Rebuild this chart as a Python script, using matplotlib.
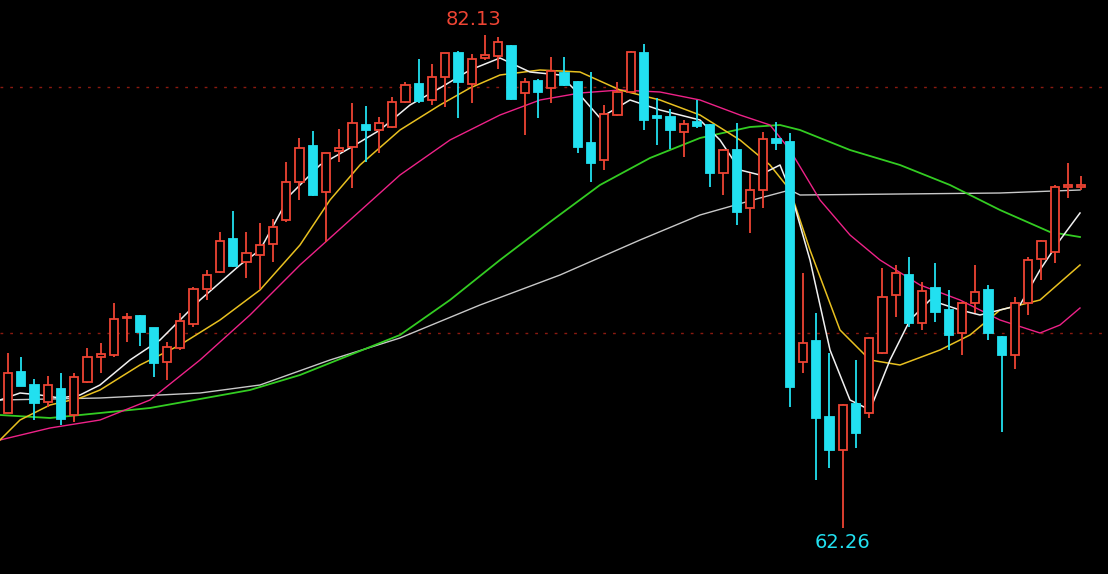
import matplotlib
matplotlib.use("Agg")
import matplotlib.pyplot as plt
from matplotlib.patches import Rectangle
import numpy as np

# Calibration: labelled 82.13 high at y=35px, 62.26 low at y=528px;
# candles at x = 8 + 13.25*i px
def to_price(v):
    v = np.asarray(v, float)
    return 82.13 - (v - 35) * (82.13 - 62.26) / (528 - 35)

def to_index(v):
    return (np.asarray(v, float) - 8) / 13.25

# OHLC (image scale), converted to price
opens  = to_price([413,372,385,402,389,415,382,357,355,318,316,328,362,348,324,289,272,239,262,255,244,220,182,146,192,151,147,125,130,127,102,84,100,77,53,84,58,56,46,93,81,88,73,82,143,160,115,92,53,116,117,132,122,125,173,150,208,190,139,142,362,341,417,450,404,413,353,295,275,323,288,310,333,303,290,337,355,303,259,252,187,187])
closes = to_price([373,386,403,385,419,377,357,354,319,317,332,363,347,321,289,275,241,266,253,245,227,182,148,195,153,148,123,130,123,102,85,101,77,53,82,59,55,42,99,82,92,71,85,147,163,114,92,52,120,118,130,124,126,173,150,212,190,139,143,387,343,418,450,405,433,338,297,273,323,291,312,335,303,292,333,355,303,260,241,187,185,185])
highs  = to_price([353,357,379,376,373,373,348,343,303,313,315,328,342,313,287,270,232,211,232,223,219,162,138,131,153,129,103,106,117,97,82,59,64,53,51,54,35,37,45,78,79,57,57,81,72,105,82,51,44,98,109,120,100,124,149,123,173,132,122,133,273,313,353,404,360,337,268,265,257,282,263,290,302,265,285,336,297,257,240,185,163,176])
lows   = to_price([413,386,420,407,425,422,383,373,357,342,346,377,380,350,327,300,273,267,278,289,262,222,200,196,242,162,188,162,153,128,103,103,105,107,118,103,60,69,100,135,118,103,86,153,182,170,116,93,130,145,149,157,128,187,195,225,233,208,150,407,373,480,468,528,448,418,354,317,327,330,322,350,355,313,340,432,369,315,280,263,198,190])

# Moving-average lines
ma5_x  = to_index([0,20,40,60,80,100,130,160,200,240,260,290,320,350,380,410,440,470,500,530,560,580,600,630,660,700,720,740,760,780,790,810,830,850,870,890,910,930,960,980,1000,1020,1040,1060,1080])
ma5_y  = to_price([400,393,395,398,395,385,360,340,300,265,250,195,165,148,130,105,88,70,58,72,75,95,118,100,110,120,140,170,175,165,190,260,350,400,410,360,320,300,310,315,310,305,270,240,213])
ma10_x = to_index([0,20,50,80,100,140,180,220,260,300,330,360,400,440,470,500,540,580,620,660,700,740,770,790,810,840,870,900,940,970,1000,1040,1080])
ma10_y = to_price([440,420,405,398,390,365,345,320,290,245,200,165,130,105,88,75,70,72,90,100,115,140,165,190,250,330,360,365,350,335,310,300,265])
ma20_x = to_index([0,50,100,150,200,250,300,350,400,450,500,540,580,620,660,700,740,770,790,820,850,880,920,960,1000,1040,1060,1080])
ma20_y = to_price([440,428,420,400,360,315,265,220,175,140,115,100,93,90,92,100,115,125,150,200,235,260,285,300,320,333,325,308])
ma60_x = to_index([0,50,150,250,300,350,400,450,500,550,600,650,700,750,780,800,850,900,950,1000,1050,1080])
ma60_y = to_price([415,418,408,390,375,355,335,300,260,222,185,158,138,127,125,130,150,165,185,210,232,237])
ma120_x = to_index([0,100,200,260,330,400,480,560,640,700,760,790,800,900,1000,1080])
ma120_y = to_price([400,398,393,385,360,338,305,275,240,215,198,190,195,194,193,190])

UP = "#ee4433"
DOWN = "#22e0f0"

fig = plt.figure(figsize=(11.08, 5.74), dpi=100, facecolor="black")
ax = fig.add_axes([0, 0, 1, 1], facecolor="black")

for yv in to_price([87, 333]):
    ax.axhline(yv, color="#8a1a10", lw=1, ls=(0, (2, 5)))

ax.plot(ma120_x, ma120_y, color="#c8c8c8", lw=1)
ax.plot(ma60_x, ma60_y, color="#33cc22", lw=1.3)
ax.plot(ma20_x, ma20_y, color="#ee2288", lw=1)
ax.plot(ma10_x, ma10_y, color="#e8c020", lw=1.1)
ax.plot(ma5_x, ma5_y, color="#f0f0f0", lw=1.1)

w = 0.62
for i, (o, c, h, l) in enumerate(zip(opens, closes, highs, lows)):
    up = c >= o
    col = UP if up else DOWN
    top, bot = max(o, c), min(o, c)
    ax.vlines(i, top, h, color=col, lw=1.3, zorder=3)
    ax.vlines(i, l, bot, color=col, lw=1.3, zorder=3)
    hgt = max(top - bot, 0.04)
    ax.add_patch(Rectangle((i - w / 2, bot), w, hgt,
                           facecolor="black" if up else col,
                           edgecolor=col, lw=1.3, zorder=4))

ihi = int(np.argmax(highs))
ilo = int(np.argmin(lows))
ax.text(ihi - 0.9, highs[ihi] + 0.25, f"{highs[ihi]:.2f}", color=UP, fontsize=14,
        ha="center", va="bottom")
ax.text(ilo, lows[ilo] - 0.2, f"{lows[ilo]:.2f}", color=DOWN, fontsize=14,
        ha="center", va="top")

ax.set_xlim(-8 / 13.25, (1108 - 8) / 13.25)
ax.set_ylim(to_price(574), to_price(0))
ax.axis("off")
fig.savefig("out.png", dpi=100, facecolor="black")
